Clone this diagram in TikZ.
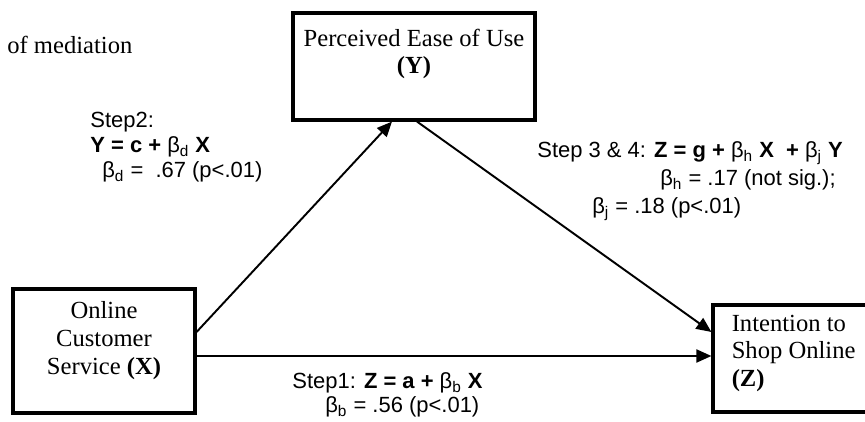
\documentclass[tikz,border=0pt]{standalone}
\usepackage{fontspec}
\setmainfont{Liberation Serif}
\setsansfont{Liberation Sans}
\usetikzlibrary{arrows.meta,positioning}
\newcommand{\betasub}[1]{β\textsubscript{#1}}

\begin{document}
\begin{tikzpicture}[
  var/.style={draw, line width=1.8pt},
  vartext/.style={font=\fontsize{14}{15.8}\selectfont, inner sep=0pt, align=center},
  path/.style={-{Triangle[length=3mm, width=2.6mm]}, line width=1.1pt},
  note/.style={font=\sffamily\fontsize{12.5}{14.2}\selectfont, inner sep=0pt, align=left, anchor=north west}
]
\useasboundingbox (0,0) rectangle (17.3,-8.44);
\clip (0,0) rectangle (17.3,-8.44);

\node[vartext, anchor=north west] (title) at (0.14,-0.72) {of mediation};

\node[var, minimum width=4.84cm, minimum height=2.14cm] (y) at (8.28,-1.33) {};
\node[var, minimum width=3.64cm, minimum height=2.48cm] (x) at (2.08,-7.02) {};
\node[var, minimum width=4.2cm, minimum height=2.14cm] (z) at (16.36,-7.17) {};

\node[vartext, below=.34cm of y.north] (ylab) {Perceived Ease of Use\\\textbf{(Y)}};
\node[vartext, below=.28cm of x.north] (xlab) {Online\\Customer\\Service \textbf{(X)}};
\node[vartext, align=left, anchor=north west] (zlab) at ([xshift=.4cm,yshift=-.22cm]z.north west) {Intention to\\Shop Online\\\textbf{(Z)}};

\draw[path] ([yshift=.38cm]x.east) -- ([xshift=-.44cm]y.south);
\draw[path] ([xshift=.06cm]y.south) -- ([yshift=.53cm]z.west);
\draw[path] ([yshift=-.1cm]x.east) -- ([yshift=-.1cm]x.east -| z.west);

\node[note] (step2) at (1.80,-2.24) {Step2:\\\textbf{Y = c +} \betasub{d} \textbf{X}\\\hspace*{.24cm}\betasub{d} =\ \ .67 (p<.01)};
\node[note, font=\sffamily\fontsize{12.5}{15.9}\selectfont] (step3) at (10.74,-2.82) {Step 3 \& 4: \textbf{Z = g +} \betasub{h} \textbf{X}\ \ \textbf{+} \betasub{j} \textbf{Y}\\\hspace*{2.46cm}\betasub{h} = .17 (not sig.);\\\hspace*{1.10cm}\betasub{j} = .18 (p<.01)};
\node[note, font=\sffamily\fontsize{12.5}{13.6}\selectfont] (step1) at (5.84,-7.44) {Step1: \textbf{Z = a +} \betasub{b} \textbf{X}\\\hspace*{.66cm}\betasub{b} = .56 (p<.01)};
\end{tikzpicture}
\end{document}
